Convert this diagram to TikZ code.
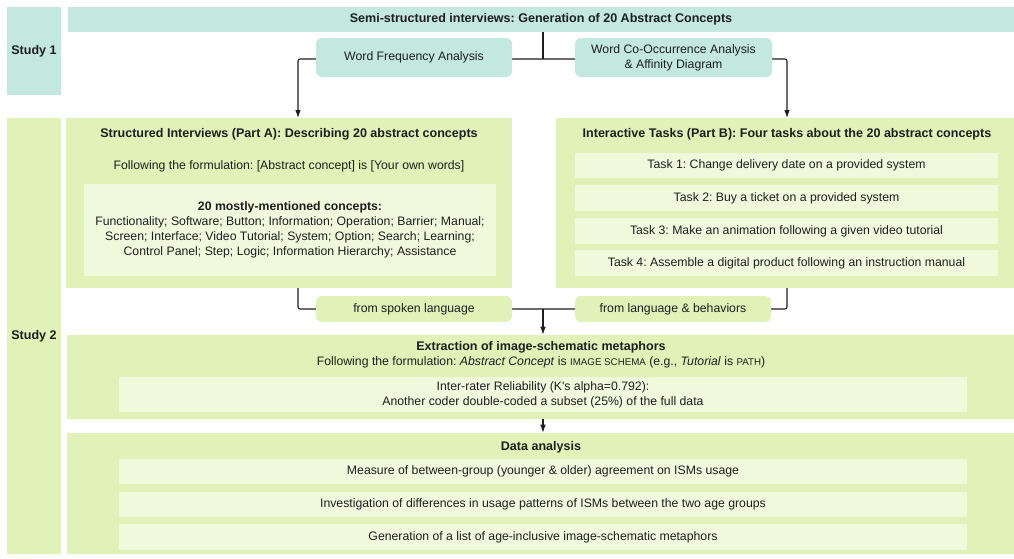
\documentclass[tikz,border=0pt]{standalone}
\usepackage{fontspec}
\setmainfont{Liberation Sans}
\usetikzlibrary{fit,arrows.meta}
\definecolor{tealbox}{HTML}{C2E8DF}
\definecolor{greenbox}{HTML}{E0F2B8}
\definecolor{lightbox}{HTML}{F1F9DD}
\definecolor{ink}{HTML}{1E1E1E}
\pgfdeclarelayer{bg}
\pgfsetlayers{bg,main}
\frenchspacing
% fake small capitals for the image-schema names
\newcommand{\schemasc}[1]{{\fontsize{7.3pt}{9pt}\selectfont #1}}

\begin{document}
\begin{tikzpicture}[x=0.75pt,y=-0.75pt,
  font=\fontsize{9.2pt}{11.2pt}\selectfont, text=ink,
  tealpanel/.style={fill=tealbox, draw=none, inner sep=0pt},
  greenpanel/.style={fill=greenbox, draw=none, inner sep=0pt},
  lightpanel/.style={fill=lightbox, draw=none, inner sep=0pt},
  roundpanel/.style={rounded corners=4.5pt},
  txt/.style={inner sep=0pt, align=center},
  hd/.style={txt, font=\fontsize{9.4pt}{11.4pt}\selectfont\bfseries},
  conn/.style={draw=ink, line width=0.8pt, rounded corners=1.5pt},
  arr/.style={conn, -{Latex[length=6pt,width=4.2pt]}}
]
\useasboundingbox (0,0) rectangle (1014,558);

% ---------- Study 1 ----------
\node[tealpanel, fit={(7,7) (61,95)}] (s1) {};
\node[hd] (s1t) at (s1.center) {Study 1};
\node[tealpanel, fit={(68,7) (1014,32)}] (head) {};
\node[hd] (headt) at (head.center) {Semi-structured interviews: Generation of 20 Abstract Concepts};
\node[tealpanel, roundpanel, fit={(316,38) (512,77)}] (wfa) {};
\node[txt] (wfat) at (wfa.center) {Word Frequency Analysis};
\node[tealpanel, roundpanel, fit={(575,38) (772,77)}] (wco) {};
\node[txt] (wcot) at (wco.center) {Word Co-Occurrence Analysis\\\& Affinity Diagram};

% ---------- Study 2 ----------
\node[greenpanel, fit={(7,118) (61,554)}] (s2) {};
\node[hd] (s2t) at (s2.center) {Study 2};

% Part A
\node[greenpanel, fit={(66,118) (512,288)}] (pa) {};
\node[hd] (pat) at (289,134) {Structured Interviews (Part A): Describing 20 abstract concepts};
\node[txt] (paf) at (289,166) {Following the formulation: [Abstract concept] is [Your own words]};
\node[lightpanel, fit={(84,184) (496,276)}] (pac) {};
\node[txt, font=\fontsize{9.2pt}{11.25pt}\selectfont] (pact) at (pac.center)
  {\textbf{20 mostly-mentioned concepts:}\\
   Functionality; Software; Button; Information; Operation; Barrier; Manual;\\
   Screen; Interface; Video Tutorial; System; Option; Search; Learning;\\
   Control Panel; Step; Logic; Information Hierarchy; Assistance};

% Part B
\node[greenpanel, fit={(556,118) (1014,288)}] (pb) {};
\node[hd] (pbt) at (787,134) {Interactive Tasks (Part B): Four tasks about the 20 abstract concepts};
\node[lightpanel, fit={(575,153) (998,178)}] (k1) {};
\node[txt] (k1t) at (k1.center) {Task 1: Change delivery date on a provided system};
\node[lightpanel, fit={(575,185) (998,211)}] (k2) {};
\node[txt] (k2t) at (k2.center) {Task 2: Buy a ticket on a provided system};
\node[lightpanel, fit={(575,218) (998,244)}] (k3) {};
\node[txt] (k3t) at (k3.center) {Task 3: Make an animation following a given video tutorial};
\node[lightpanel, fit={(575,250) (998,276)}] (k4) {};
\node[txt] (k4t) at (k4.center) {Task 4: Assemble a digital product following an instruction manual};

% source labels
\node[greenpanel, roundpanel, fit={(316,296) (512,322)}] (fs) {};
\node[txt] (fst) at (fs.center) {from spoken language};
\node[greenpanel, roundpanel, fit={(575,296) (771,322)}] (fl) {};
\node[txt] (flt) at (fl.center) {from language \& behaviors};

% Extraction
\node[greenpanel, fit={(67,335) (1014,419)}] (ex) {};
\node[hd] (ext) at (541,347.5) {Extraction of image-schematic metaphors};
\node[txt] (exf) at (541,362)
  {Following the formulation: \textit{Abstract Concept} is \schemasc{IMAGE SCHEMA} (e.g., \textit{Tutorial} is \schemasc{PATH})};
\node[lightpanel, fit={(119,377) (967,412)}] (ir) {};
\node[txt] (irt) at (ir.center) {Inter-rater Reliability (K\textquotesingle s alpha=0.792):\\Another coder double-coded a subset (25\%) of the full data};

% Data analysis
\node[greenpanel, fit={(67,433) (1014,554)}] (da) {};
\node[hd] (dat) at (541,447.5) {Data analysis};
\node[lightpanel, fit={(119,459) (967,484)}] (d1) {};
\node[txt] (d1t) at (d1.center) {Measure of between-group (younger \& older) agreement on ISMs usage};
\node[lightpanel, fit={(119,492) (967,517)}] (d2) {};
\node[txt] (d2t) at (d2.center) {Investigation of differences in usage patterns of ISMs between the two age groups};
\node[lightpanel, fit={(119,524) (967,550)}] (d3) {};
\node[txt] (d3t) at (d3.center) {Generation of a list of age-inclusive image-schematic metaphors};

% ---------- connectors ----------
\coordinate (j1) at (543,59);
\coordinate (aIn) at (298,118);
\coordinate (bIn) at (787,118);
\coordinate (aOut) at (298,288);
\coordinate (bOut) at (787,288);
\coordinate (j2) at (543,309);
\begin{pgfonlayer}{bg}
  \draw[conn] (head.south -| j1) -- (j1);
  \draw[arr] (j1) -| (aIn);
  \draw[arr] (j1) -| (bIn);
  \draw[conn] (aOut) |- (j2);
  \draw[conn] (bOut) |- (j2);
  \draw[arr] (j2) -- (ex.north -| j2);
  \draw[arr] (ex.south -| j2) -- (da.north -| j2);
\end{pgfonlayer}
\end{tikzpicture}
\end{document}
